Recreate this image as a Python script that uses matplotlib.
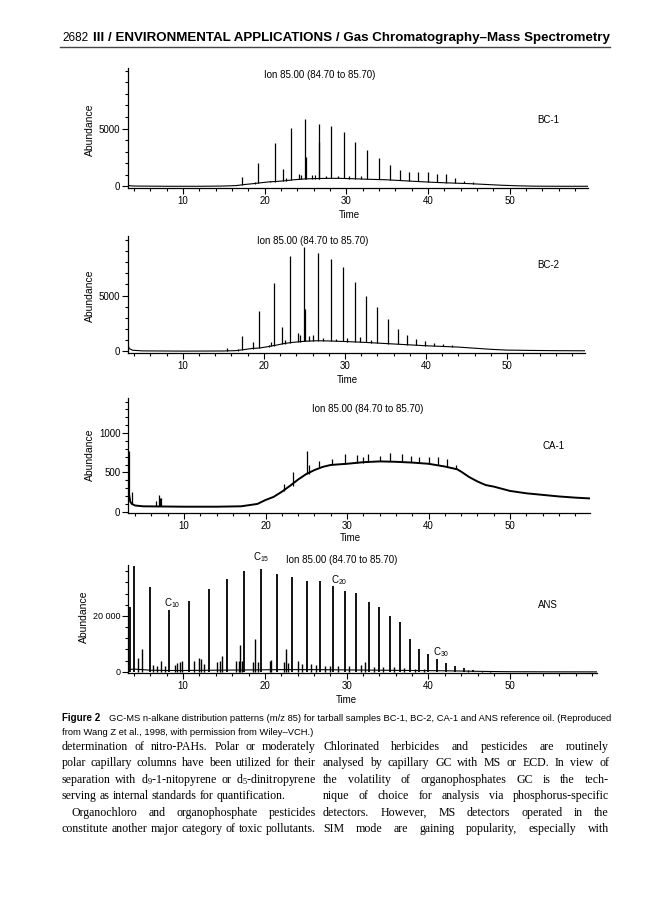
import matplotlib.pyplot as plt
from matplotlib.lines import Line2D
from matplotlib.ticker import MultipleLocator, FixedLocator

plt.rcParams['font.family'] = 'Liberation Sans'

# ---------------- data ----------------
# BC-1 tarball
bc1_base_t = [3.25, 3.3, 3.5, 4, 8, 12, 15, 16.5, 17.5, 18.5, 19.5, 20.5, 21.5, 22.5, 23.5,
              25, 27, 29, 31, 33, 35, 37, 39, 41, 43, 45, 47, 49, 51, 53, 56, 59.6]
bc1_base_v = [300, 100, 40, 20, 0, 0, 20, 60, 150, 220, 300, 380, 420, 480, 560,
              640, 680, 690, 650, 600, 560, 480, 400, 330, 280, 230, 160, 90, 40, 10, 0, 0]
bc1_pk_t = [17.2, 18.8, 19.2, 20.6, 21.2, 22.2, 22.6, 23.2, 24.2, 24.5, 24.9, 25.1, 25.8, 26.2,
            26.6, 26.7, 27.5, 28.1, 29.0, 29.7, 30.3, 31.1, 31.8, 32.5, 34.0, 35.3, 36.6, 37.7,
            38.8, 40.0, 41.1, 42.2, 43.3, 44.4, 45.5, 47.0]
bc1_pk_top = [770, 400, 2000, 450, 3710, 1490, 700, 5060, 1060, 1000, 5830, 2500, 1000, 950,
              5430, 3800, 900, 5260, 900, 4690, 850, 3830, 850, 3140, 2490, 1830, 1430, 1200,
              1200, 1200, 1060, 1060, 690, 490, 340, 230]
bc1_pk_bot = [130, 210, 250, 370, 400, 470, 480, 540, 600, 610, 630, 630, 660, 665,
              670, 670, 680, 685, 690, 680, 670, 650, 640, 615, 590, 560, 500, 460,
              420, 370, 330, 300, 280, 250, 220, 160]

# BC-2 tarball
bc2_base_t = [3.25, 3.4, 3.8, 5, 10, 15, 16.5, 17.5, 18.5, 19.5, 20.5, 21.5, 22.5, 23.5, 25,
              26.5, 28, 30, 32, 34, 36, 38, 40, 42, 44, 46, 48, 50, 53, 56, 59.6]
bc2_base_v = [600, 250, 100, 40, 20, 30, 60, 150, 250, 300, 420, 550, 700, 800, 900,
              950, 930, 880, 820, 740, 660, 580, 500, 440, 380, 280, 180, 110, 80, 60, 50]
bc2_pk_t = [15.4, 16.8, 17.35, 18.7, 19.4, 20.6, 20.9, 21.3, 22.3, 22.6, 23.2, 24.2, 24.5, 25.0,
            25.1, 25.6, 26.0, 26.7, 27.3, 28.3, 28.9, 29.7, 30.3, 31.2, 31.9, 32.6, 33.2, 34.0,
            35.3, 36.6, 37.7, 38.8, 39.9, 41.0, 42.1, 43.2]
bc2_pk_top = [300, 200, 1400, 850, 3600, 600, 800, 6110, 2190, 1000, 8570, 1640, 1500, 9330,
              3800, 1400, 1500, 8800, 1200, 8330, 1100, 7570, 1200, 6230, 1300, 5000, 1000, 3980,
              2870, 2020, 1490, 1140, 960, 790, 700, 610]
bc2_pk_bot = [30, 50, 150, 250, 290, 420, 450, 500, 680, 700, 760, 840, 850, 900,
              900, 920, 930, 950, 940, 930, 910, 890, 870, 850, 820, 800, 780, 750,
              700, 650, 600, 560, 510, 470, 440, 410]

# CA-1 tarball
ca1_base_t = [3.2, 3.3, 3.4, 3.6, 4, 5, 7, 10, 14, 17, 18, 19, 20, 21, 22, 23, 24, 25, 26, 27,
              28, 30, 32, 34, 36, 38, 40, 42, 43.5, 44, 45, 46, 47, 48, 50, 52, 54, 56, 58, 59.8]
ca1_base_v = [300, 200, 130, 100, 80, 70, 68, 65, 65, 70, 85, 100, 150, 190, 255, 330, 410, 480,
              530, 570, 595, 610, 630, 640, 635, 625, 610, 575, 540, 510, 440, 385, 340, 320,
              265, 235, 215, 195, 180, 170]
ca1_pk_t = [3.22, 3.6, 6.6, 6.9, 7.0, 7.2, 22.3, 23.4, 25.1, 25.3, 26.5, 28.2, 29.7, 31.2, 32.0,
            32.6, 34.0, 35.3, 36.7, 37.8, 38.8, 40.0, 41.2, 42.3, 43.4]
ca1_pk_top = [770, 250, 140, 210, 180, 170, 350, 500, 770, 600, 640, 670, 735, 720, 700,
              735, 710, 745, 740, 710, 700, 700, 690, 670, 600]
ca1_pk_bot = [250, 95, 70, 70, 70, 70, 260, 330, 480, 485, 550, 595, 605, 620, 625,
              630, 640, 640, 635, 630, 625, 610, 590, 570, 540]

# ANS reference oil
ans_base_t = [3.2, 4, 6, 8, 10, 14, 18, 22, 26, 30, 34, 38, 40, 42, 44, 46, 48, 50, 55, 60.6]
ans_base_v = [800, 1000, 600, 500, 500, 600, 700, 800, 800, 700, 600, 500, 450, 400, 300,
              200, 120, 60, 20, 0]
ans_pk_t = [3.15, 3.5, 4.0, 5.9, 8.3, 10.7, 13.15, 15.4, 17.5, 19.5, 21.5, 23.3, 25.1, 26.7,
            28.3, 29.75, 31.2, 32.7, 34.0, 35.3, 36.55, 37.7, 38.9, 40.0, 41.1, 42.1, 43.3,
            44.3, 45.4]
ans_pk_top = [38000, 23300, 38000, 30500, 22100, 25300, 29600, 33300, 36100, 36800, 35000,
              34000, 32600, 32400, 30800, 28800, 28200, 24900, 23300, 19800, 17700, 11800,
              8100, 6550, 4560, 3160, 2100, 1300, 820]
ans_minor_t = [3.3, 4.5, 5.0, 6.3, 6.8, 7.3, 7.8, 9.0, 9.3, 9.6, 9.9, 11.3, 11.9, 12.2, 12.6,
               14.2, 14.5, 14.7, 16.5, 16.8, 17.0, 17.2, 18.6, 18.8, 19.1, 20.6, 20.8, 22.4,
               22.6, 22.8, 24.1, 24.5, 25.6, 26.2, 27.3, 28.0, 29.0, 30.3, 31.8, 32.2, 33.3,
               34.5, 35.8, 37.0, 38.3, 39.5, 44.8, 46.5, 47.5]
ans_minor_top = [6500, 4800, 8000, 2500, 2000, 3900, 2200, 2500, 3000, 3500, 3800, 3900, 5000,
                 4500, 2800, 3500, 3800, 5500, 3800, 4000, 9500, 4000, 3500, 11800, 3500, 3800,
                 4200, 3500, 8200, 3200, 3800, 2900, 2800, 2500, 2200, 2000, 2000, 2000, 2300,
                 3500, 1800, 1600, 1800, 1500, 1200, 1000, 700, 400, 300]

ion_text = 'Ion 85.00 (84.70 to 85.70)'

W, H = 668, 900
fig = plt.figure(figsize=(W / 100, H / 100), dpi=100)
renderer = fig.canvas.get_renderer()


def px(x, y):
    return x / W, 1 - y / H


def put(x, y, s, width=None, **kw):
    kw.setdefault('ha', 'left')
    kw.setdefault('va', 'baseline')
    t = fig.text(*px(x, y), s, **kw)
    if width:
        w = t.get_window_extent(renderer).width
        t.set_fontsize(t.get_fontsize() * width / w)
    return t


def make_axes(left, right, top, bottom, xlim, ylim, yticks, ylabels, yminor):
    ax = fig.add_axes([left / W, 1 - bottom / H, (right - left) / W, (bottom - top) / H])
    ax.set_xlim(*xlim)
    ax.set_ylim(*ylim)
    for s in ['top', 'right']:
        ax.spines[s].set_visible(False)
    for s in ['left', 'bottom']:
        ax.spines[s].set_linewidth(0.9)
    ax.set_xticks([10, 20, 30, 40, 50])
    ax.xaxis.set_minor_locator(MultipleLocator(2))
    ax.yaxis.set_major_locator(FixedLocator(yticks))
    ax.set_yticklabels(ylabels)
    ax.yaxis.set_minor_locator(MultipleLocator(yminor))
    ax.tick_params(which='both', direction='out', labelsize=7, width=0.8, pad=1.5)
    ax.tick_params(which='major', length=4)
    ax.tick_params(which='minor', length=2.5)
    ax.patch.set_visible(False)
    return ax


# ---------------- header ----------------
put(62, 41, '2682', fontsize=8.5)
put(93, 41, 'III / ENVIRONMENTAL APPLICATIONS / Gas Chromatography\u2013Mass Spectrometry',
    width=514, fontsize=8.5, fontweight='bold')
fig.add_artist(Line2D([60 / W, 610 / W], [1 - 47 / H, 1 - 47 / H], color='#444444', lw=1.0))

# ---------------- panel 1: BC-1 ----------------
ax1 = make_axes(128, 588, 68, 188, (3.25, 59.6), (-150, 10250), [0, 5000], ['0', '5000'], 1000)
ax1.plot(bc1_base_t, bc1_base_v, color='black', lw=0.8)
ax1.vlines(bc1_pk_t, bc1_pk_bot, bc1_pk_top, color='black', lw=0.9)
put(320, 78, ion_text, fontsize=7, ha='center')
put(548, 123, 'BC-1', fontsize=7, ha='center')
put(349, 218, 'Time', fontsize=7, ha='center')
put(90, 130, 'Abundance', fontsize=7.5, ha='center', va='center', rotation=90)

# ---------------- panel 2: BC-2 ----------------
ax2 = make_axes(128, 585, 236, 353, (3.25, 59.6), (-150, 10350), [0, 5000], ['0', '5000'], 1000)
ax2.plot(bc2_base_t, bc2_base_v, color='black', lw=0.8)
ax2.vlines(bc2_pk_t, bc2_pk_bot, bc2_pk_top, color='black', lw=0.9)
put(313, 244, ion_text, fontsize=7, ha='center')
put(548, 268, 'BC-2', fontsize=7, ha='center')
put(347, 383, 'Time', fontsize=7, ha='center')
put(90, 296, 'Abundance', fontsize=7.5, ha='center', va='center', rotation=90)

# ---------------- panel 3: CA-1 ----------------
ax3 = make_axes(128, 590, 398, 513, (3.13, 59.8), (-15, 1445), [0, 500, 1000],
                ['0', '500', '1000'], 100)
ax3.plot(ca1_base_t, ca1_base_v, color='black', lw=1.4)
ax3.vlines(ca1_pk_t, ca1_pk_bot, ca1_pk_top, color='black', lw=0.9)
put(368, 412, ion_text, fontsize=7, ha='center')
put(554, 449, 'CA-1', fontsize=7, ha='center')
put(350, 541, 'Time', fontsize=7, ha='center')
put(90, 455, 'Abundance', fontsize=7.5, ha='center', va='center', rotation=90)

# ---------------- panel 4: ANS ----------------
ax4 = make_axes(128, 597, 565, 673, (3.27, 60.6), (-400, 38200), [0, 20000], ['0', '20 000'],
                4000)
ax4.tick_params(axis='y', labelsize=6.5)
ax4.plot(ans_base_t, ans_base_v, color='black', lw=0.8)
ax4.vlines(ans_minor_t, 0, ans_minor_top, color='black', lw=1.0)
ax4.vlines(ans_pk_t, 0, ans_pk_top, color='black', lw=1.3)
put(342, 563, ion_text, fontsize=7, ha='center')
put(548, 608, 'ANS', fontsize=7, ha='center')
put(346, 703, 'Time', fontsize=7, ha='center')
put(84, 617, 'Abundance', fontsize=7.5, ha='center', va='center', rotation=90)
put(261, 560, r'$\mathregular{C_{15}}$', fontsize=7, ha='center')
put(339, 583, r'$\mathregular{C_{20}}$', fontsize=7, ha='center')
put(172, 606, r'$\mathregular{C_{10}}$', fontsize=7, ha='center')
put(441, 655, r'$\mathregular{C_{30}}$', fontsize=7, ha='center')

# ---------------- caption ----------------
put(62, 721, 'Figure 2', fontsize=7, fontweight='bold')
cap = put(109, 721, 'GC-MS n-alkane distribution patterns (m/z 85) for tarball samples BC-1, '
          'BC-2, CA-1 and ANS reference oil. (Reproduced', width=501, fontsize=7)
put(62, 735, 'from Wang Z et al., 1998, with permission from Wiley\u2013VCH.)',
    fontsize=cap.get_fontsize())

# ---------------- body text (two justified columns) ----------------
body = dict(fontsize=8.6, family='Liberation Serif')
probe2 = put(0, 0, 'a a', **body)
probe1 = put(0, 0, 'a', **body)
space_w = probe2.get_window_extent(renderer).width - 2 * probe1.get_window_extent(renderer).width
probe1.remove()
probe2.remove()


def justify(line, x0, x1, y, indent=0, last=False):
    words = line.split(' ')
    objs = [put(x0, y, w, **body) for w in words]
    widths = [o.get_window_extent(renderer).width for o in objs]
    if last:
        gap = space_w
    else:
        gap = max((x1 - x0 - indent - sum(widths)) / (len(words) - 1), 1.0)
    x = x0 + indent
    for o, w in zip(objs, widths):
        o.set_position(px(x, y))
        x += w + gap


left_col = [
    ('determination of nitro-PAHs. Polar or moderately', 0, False),
    ('polar capillary columns have been utilized for their', 0, False),
    (r'separation with $\mathregular{d_9}$-1-nitopyrene or $\mathregular{d_5}$-dinitropyrene', 0, False),
    ('serving as internal standards for quantification.', 0, True),
    ('Organochloro and organophosphate pesticides', 10, False),
    ('constitute another major category of toxic pollutants.', 0, False),
]
right_col = [
    'Chlorinated herbicides and pesticides are routinely',
    'analysed by capillary GC with MS or ECD. In view of',
    'the volatility of organophosphates GC is the tech-',
    'nique of choice for analysis via phosphorus-specific',
    'detectors. However, MS detectors operated in the',
    'SIM mode are gaining popularity, especially with',
]
for i, (line, ind, last) in enumerate(left_col):
    justify(line, 62, 316, 750 + 16.4 * i, ind, last)
for i, line in enumerate(right_col):
    justify(line, 323, 609, 750 + 16.4 * i)

fig.savefig('out.png', dpi=100, facecolor='white')
